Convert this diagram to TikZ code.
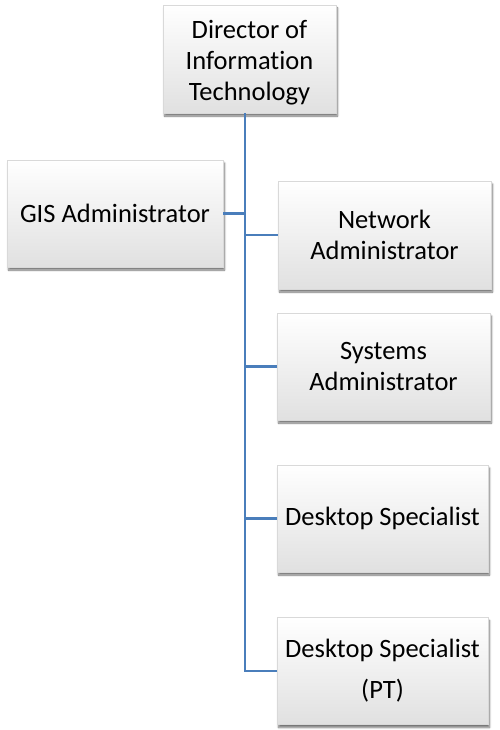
\documentclass[tikz,border=0pt]{standalone}
\usepackage{fontspec}
\setmainfont{Carlito}[Ligatures=NoCommon]
\usetikzlibrary{shadows.blur}
\definecolor{linkblue}{HTML}{4A7EBB}
\begin{document}
\begin{tikzpicture}[x=1pt,y=-1pt,
  card/.style={draw=black!15, line width=0.5pt, top color=white, bottom color=black!12,
    blur shadow={shadow xshift=1.5pt, shadow yshift=-3pt, shadow blur steps=6, shadow opacity=55},
    align=center, inner sep=0pt,
    font=\fontsize{26.5}{31}\selectfont},
  link/.style={draw=linkblue, line width=2.4pt}]
\useasboundingbox (0,0) rectangle (499,730);

\node[card, minimum width=173pt, minimum height=108pt] (dir) at (249.5,59) {};
\node[align=center, inner sep=0pt, font=\fontsize{26.5}{31}\selectfont] (dirtext) at (249.5,63) {Director of\\Information\\Technology};
\node[card, minimum width=216pt, minimum height=107pt] (gis) at (115,213.5) {GIS Administrator};
\node[card, minimum width=213pt, minimum height=108pt] (net) at (384.5,235) {Network\\Administrator};
\node[card, minimum width=213pt, minimum height=107pt] (sys) at (383.5,366.5) {Systems\\Administrator};
\node[card, minimum width=211pt, minimum height=107pt] (dsk) at (382.5,518.5) {Desktop Specialist};
\node[card, minimum width=211pt, minimum height=107pt,
      font=\fontsize{26.5}{41}\selectfont] (pt) at (382.5,671) {Desktop Specialist\\(PT)};

% vertical trunk under the director
\coordinate (trunk) at (245,113);
\draw[link] (trunk) |- (pt.west);
\draw[link] (gis.east) -- (gis.east -| trunk);
\draw[link] (trunk |- net.west) -- (net.west);
\draw[link] (trunk |- sys.west) -- (sys.west);
\draw[link] (trunk |- dsk.west) -- (dsk.west);
\end{tikzpicture}
\end{document}
